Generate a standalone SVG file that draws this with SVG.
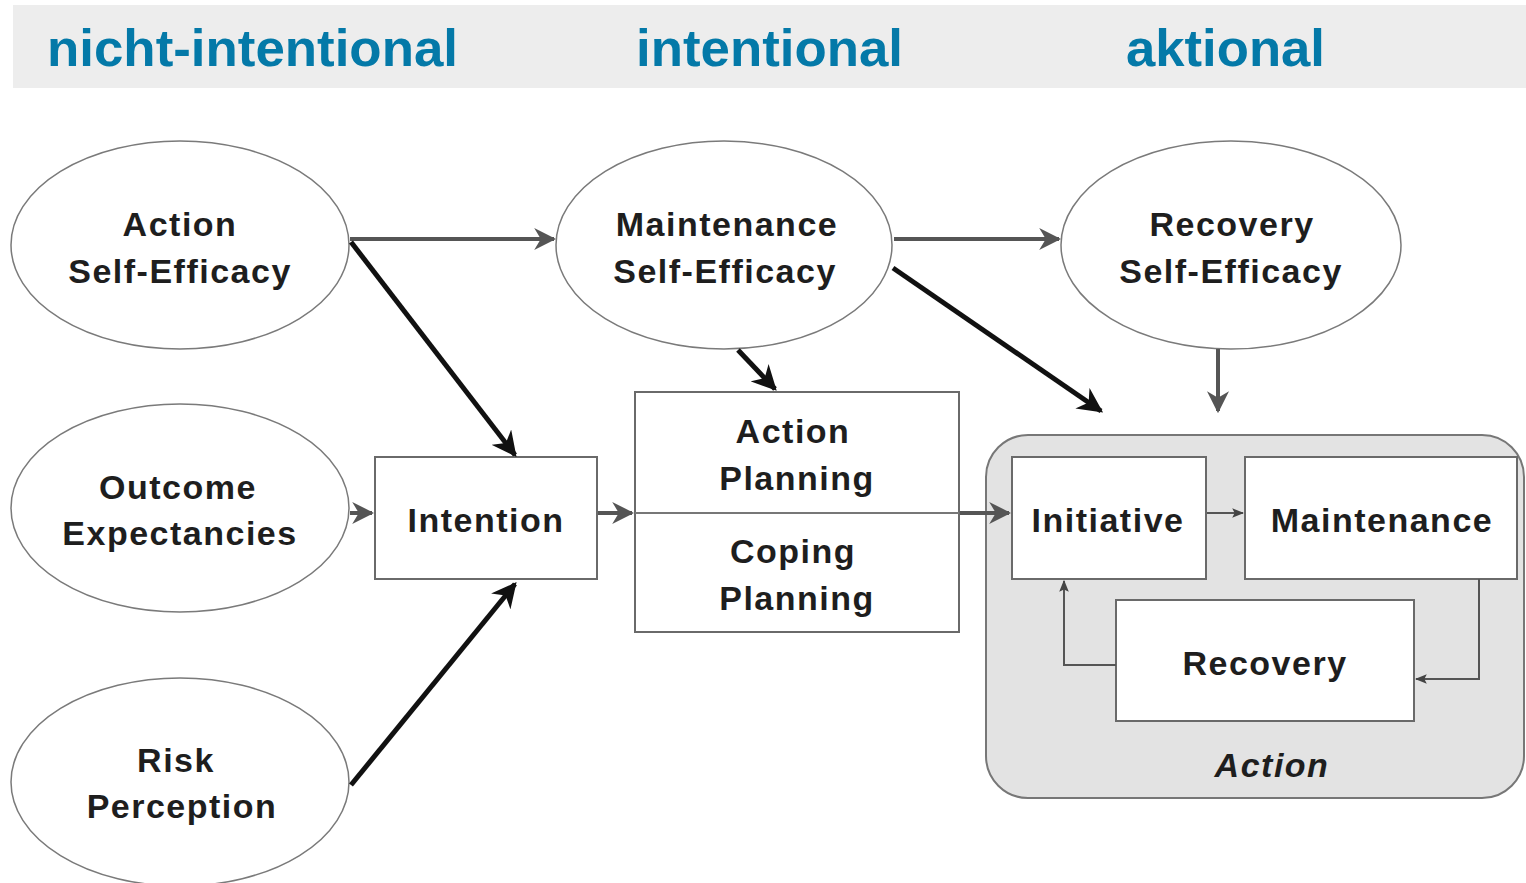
<svg xmlns="http://www.w3.org/2000/svg" width="1526" height="883" viewBox="0 0 1526 883">
<style>
.hdr{font-family:"Liberation Sans",Arial,sans-serif;font-weight:bold;font-size:52px;fill:#0479a8}
.t{font-family:"Liberation Sans",Arial,sans-serif;font-weight:bold;font-size:34px;fill:#1e1e1e;letter-spacing:1.5px;text-anchor:middle}
.ell{fill:#fff;stroke:#7a7a7a;stroke-width:1.5}
.box{fill:#fff;stroke:#6a6a6a;stroke-width:2}
.g{stroke:#555;stroke-width:4;fill:none}
.k{stroke:#111;stroke-width:5;fill:none}
.thin{stroke:#555;stroke-width:2;fill:none}
</style>
<defs>
<marker id="ah" viewBox="0 0 10 10" refX="9" refY="5" markerWidth="5" markerHeight="5" orient="auto" markerUnits="strokeWidth">
<path d="M0,0 L10,5 L0,10 L3,5 z" fill="context-stroke"/>
</marker>
<marker id="ahg" viewBox="0 0 10 10" refX="9" refY="5" markerWidth="5.5" markerHeight="5.5" orient="auto" markerUnits="strokeWidth">
<path d="M0,0 L10,5 L0,10 L3,5 z" fill="#555"/>
</marker>
<marker id="ahk" viewBox="0 0 10 10" refX="9" refY="5" markerWidth="5" markerHeight="5" orient="auto" markerUnits="strokeWidth">
<path d="M0,0 L10,5 L0,10 L3,5 z" fill="#111"/>
</marker>
<marker id="aht" viewBox="0 0 10 10" refX="9" refY="5" markerWidth="6" markerHeight="6" orient="auto" markerUnits="strokeWidth">
<path d="M0,1 L10,5 L0,9 L2,5 z" fill="#444"/>
</marker>
</defs>
<rect width="1526" height="883" fill="#fff"/>
<g id="header">
<rect x="13" y="5" width="1513" height="83" fill="#ededed"/>
<text class="hdr" x="47" y="66" textLength="411" lengthAdjust="spacingAndGlyphs">nicht-intentional</text>
<text class="hdr" x="636" y="66" textLength="267" lengthAdjust="spacingAndGlyphs">intentional</text>
<text class="hdr" x="1126" y="66" textLength="199" lengthAdjust="spacingAndGlyphs">aktional</text>
</g>
<g id="action-container">
<rect x="986" y="435" width="538" height="363" rx="42" ry="42" fill="#e3e3e3" stroke="#777" stroke-width="2"/>
<text class="t" x="1272" y="777" font-style="italic">Action</text>
</g>
<g id="action-self-efficacy">
<ellipse class="ell" cx="180" cy="245" rx="169" ry="104"/>
<text class="t" x="180" y="236">Action</text>
<text class="t" x="180" y="283">Self-Efficacy</text>
</g>
<g id="maintenance-self-efficacy">
<ellipse class="ell" cx="724" cy="245" rx="168" ry="104"/>
<text class="t" x="727" y="236">Maintenance</text>
<text class="t" x="725" y="283">Self-Efficacy</text>
</g>
<g id="recovery-self-efficacy">
<ellipse class="ell" cx="1231" cy="245" rx="170" ry="104"/>
<text class="t" x="1232" y="236">Recovery</text>
<text class="t" x="1231" y="283">Self-Efficacy</text>
</g>
<g id="outcome-expectancies">
<ellipse class="ell" cx="180" cy="508" rx="169" ry="104"/>
<text class="t" x="178" y="499">Outcome</text>
<text class="t" x="180" y="545">Expectancies</text>
</g>
<g id="risk-perception">
<ellipse class="ell" cx="180" cy="782" rx="169" ry="104"/>
<text class="t" x="176" y="772">Risk</text>
<text class="t" x="182" y="818">Perception</text>
</g>
<g id="intention">
<rect class="box" x="375" y="457" width="222" height="122"/>
<text class="t" x="486" y="532">Intention</text>
</g>
<g id="planning">
<rect class="box" x="635" y="392" width="324" height="240"/>
<line x1="635" y1="513" x2="959" y2="513" stroke="#777" stroke-width="2"/>
<text class="t" x="793" y="443">Action</text>
<text class="t" x="797" y="490">Planning</text>
<text class="t" x="793" y="563">Coping</text>
<text class="t" x="797" y="610">Planning</text>
</g>
<g id="initiative">
<rect class="box" x="1012" y="457" width="194" height="122"/>
<text class="t" x="1108" y="532">Initiative</text>
</g>
<g id="maintenance">
<rect class="box" x="1245" y="457" width="272" height="122"/>
<text class="t" x="1382" y="532">Maintenance</text>
</g>
<g id="recovery">
<rect class="box" x="1116" y="600" width="298" height="121"/>
<text class="t" x="1265" y="675">Recovery</text>
</g>
<g id="connectors">
<line class="g" x1="350" y1="239" x2="554" y2="239" marker-end="url(#ahg)"/>
<line class="k" x1="351" y1="242" x2="515" y2="455" marker-end="url(#ahk)"/>
<line class="g" x1="350" y1="513" x2="372" y2="513" marker-end="url(#ahg)"/>
<line class="k" x1="351" y1="785" x2="515" y2="584" marker-end="url(#ahk)"/>
<line class="g" x1="598" y1="513" x2="632" y2="513" marker-end="url(#ahg)"/>
<line class="k" x1="738" y1="350" x2="775" y2="389" marker-end="url(#ahk)"/>
<line class="g" x1="894" y1="239" x2="1059" y2="239" marker-end="url(#ahg)"/>
<line class="k" x1="893" y1="268" x2="1101" y2="411" marker-end="url(#ahk)"/>
<line class="g" x1="1218" y1="349" x2="1218" y2="411" stroke-width="5" marker-end="url(#ahg)"/>
<line class="g" x1="960" y1="513" x2="1009" y2="513" stroke-width="5" marker-end="url(#ahg)"/>
<line class="thin" x1="1207" y1="513" x2="1243" y2="513" marker-end="url(#aht)"/>
<polyline class="thin" points="1479,579 1479,679 1416,679" marker-end="url(#aht)"/>
<polyline class="thin" points="1116,665 1064,665 1064,581" marker-end="url(#aht)"/>
</g>
</svg>
